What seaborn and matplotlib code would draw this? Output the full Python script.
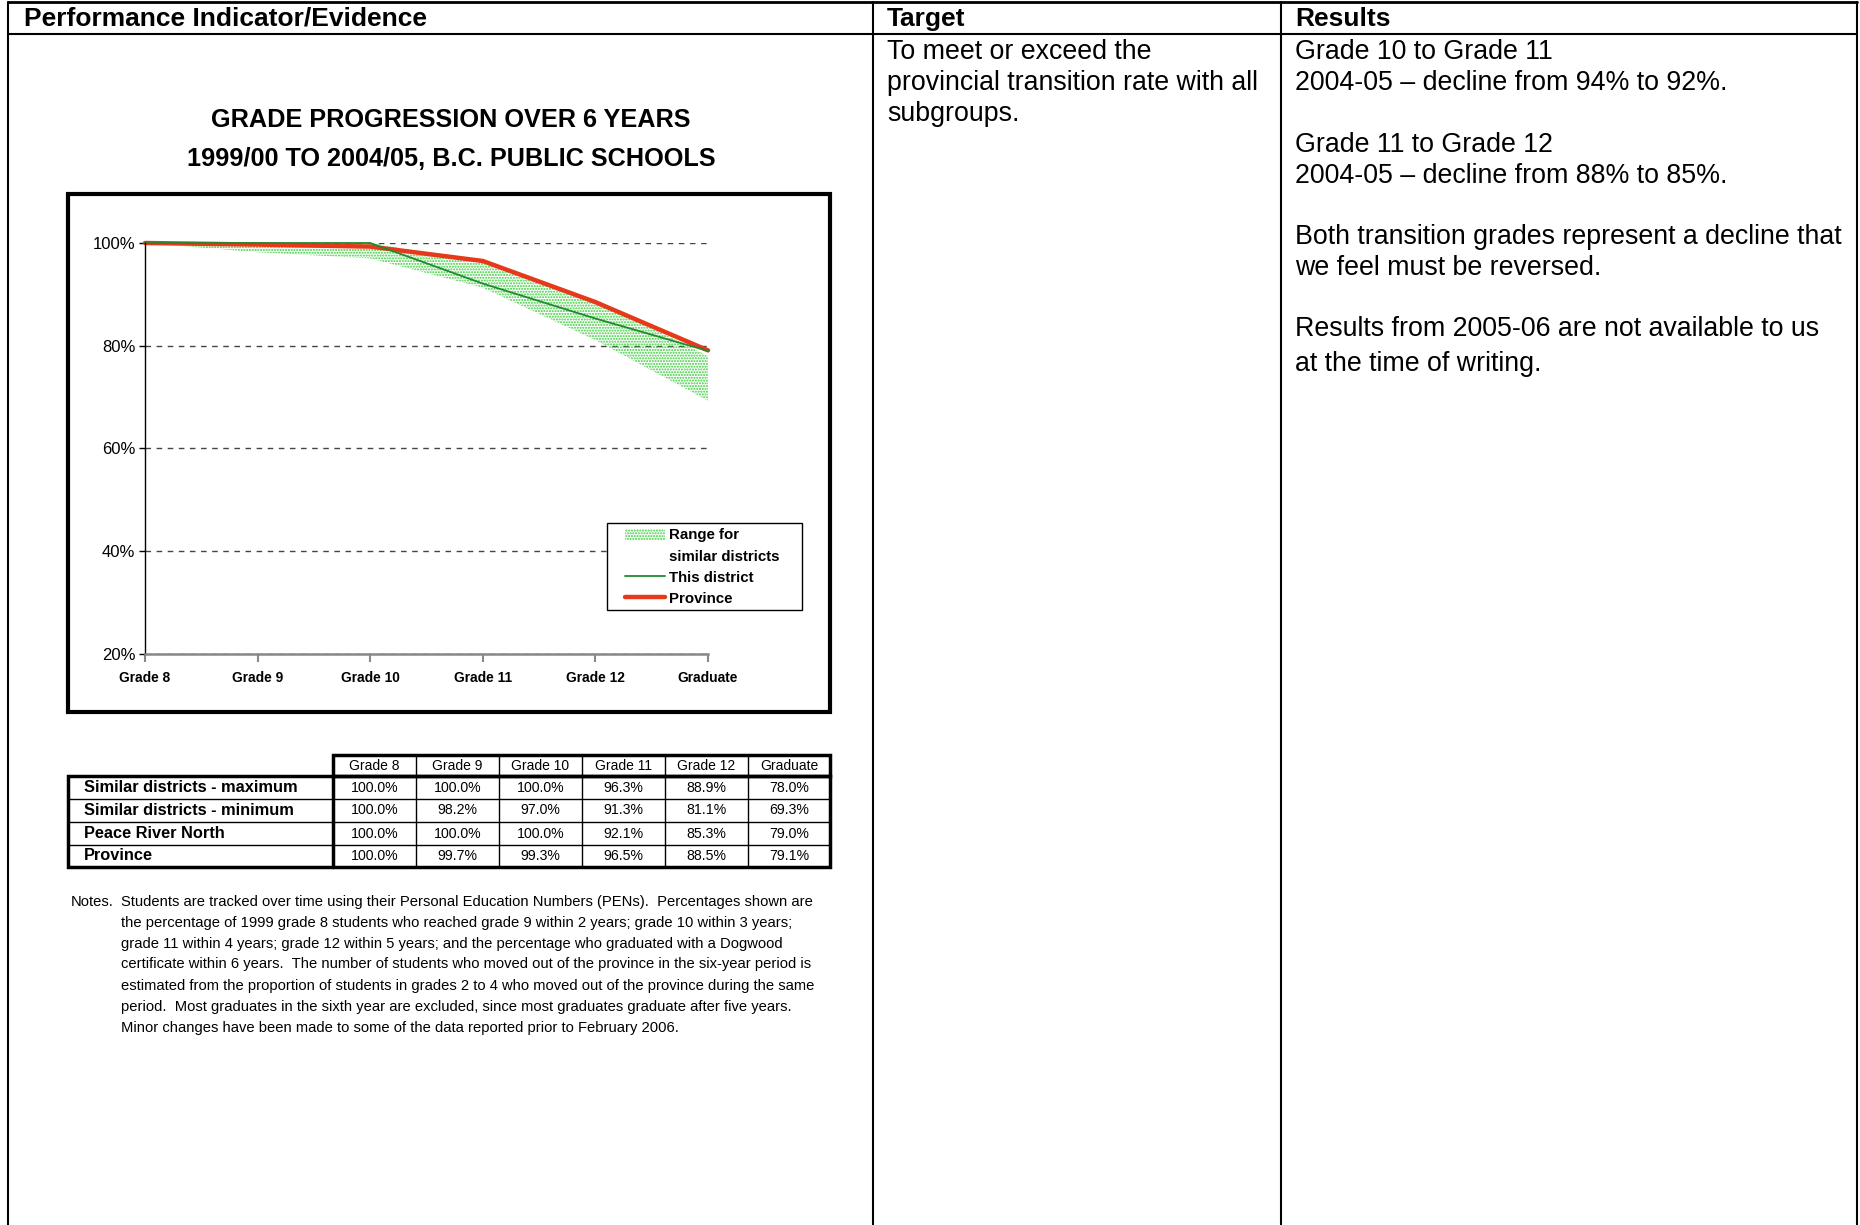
import matplotlib
matplotlib.use('Agg')
import matplotlib.pyplot as plt
import seaborn as sns
import numpy as np
from matplotlib.patches import Patch, Rectangle
from matplotlib.lines import Line2D

# chart / table data
grades = ['Grade 8', 'Grade 9', 'Grade 10', 'Grade 11', 'Grade 12', 'Graduate']
similar_max = [100.0, 100.0, 100.0, 96.3, 88.9, 78.0]
similar_min = [100.0, 98.2, 97.0, 91.3, 81.1, 69.3]
this_district = [100.0, 100.0, 100.0, 92.1, 85.3, 79.0]
province = [100.0, 99.7, 99.3, 96.5, 88.5, 79.1]
row_names = ['Similar districts - maximum', 'Similar districts - minimum', 'Peace River North', 'Province']
y_ticks = [20, 40, 60, 80, 100]

headers = ['Performance Indicator/Evidence', 'Target', 'Results']
title_lines = ['GRADE PROGRESSION OVER 6 YEARS', '1999/00 TO 2004/05, B.C. PUBLIC SCHOOLS']
legend_labels = ['Range for', 'similar districts', 'This district', 'Province']
target_lines = ['To meet or exceed the', 'provincial transition rate with all', 'subgroups.']
results_lines = ['Grade 10 to Grade 11', '2004-05 \u2013 decline from 94% to 92%.',
                 'Grade 11 to Grade 12', '2004-05 \u2013 decline from 88% to 85%.',
                 'Both transition grades represent a decline that', 'we feel must be reversed.',
                 'Results from 2005-06 are not available to us', 'at the time of writing.']
notes_lines = ['Students are tracked over time using their Personal Education Numbers (PENs).  Percentages shown are',
               'the percentage of 1999 grade 8 students who reached grade 9 within 2 years; grade 10 within 3 years;',
               'grade 11 within 4 years; grade 12 within 5 years; and the percentage who graduated with a Dogwood',
               'certificate within 6 years.  The number of students who moved out of the province in the six-year period is',
               'estimated from the proportion of students in grades 2 to 4 who moved out of the province during the same',
               'period.  Most graduates in the sixth year are excluded, since most graduates graduate after five years.',
               'Minor changes have been made to some of the data reported prior to February 2006.']

W, H = 1860, 1225
GREEN_FILL = '#38cc38'
GREEN = '#1f8a2e'
RED = '#e8381c'

sns.set_theme(style='white')
plt.rcParams['font.family'] = ['Liberation Sans', 'DejaVu Sans']
plt.rcParams['text.color'] = 'black'
plt.rcParams['xtick.color'] = 'black'
plt.rcParams['ytick.color'] = 'black'
plt.rcParams['hatch.linewidth'] = 1.0

fig = plt.figure(figsize=(W / 100, H / 100), dpi=100)
fig.patch.set_facecolor('white')

# page layer in pixel coordinates
page = fig.add_axes([0, 0, 1, 1])
page.set_xlim(0, W)
page.set_ylim(H, 0)
page.axis('off')
page.patch.set_alpha(0)

# page grid
page.plot([8, 1857], [2, 2], color='black', lw=2)
page.plot([8, 1857], [34, 34], color='black', lw=1.5)
for xv in [8, 873, 1281, 1857]:
    page.plot([xv, xv], [2, H], color='black', lw=1.5)

for txt, xv in zip(headers, [24, 887, 1295]):
    page.text(xv, 19, txt, fontsize=19, fontweight='bold', ha='left', va='center')

for txt, yv in zip(target_lines, [52, 83, 114]):
    page.text(887, yv, txt, fontsize=19.3, ha='left', va='center')
for txt, yv in zip(results_lines, [52, 83, 145, 176, 237, 268, 329, 364]):
    page.text(1295, yv, txt, fontsize=19.3, ha='left', va='center')

# chart titles and box
for txt, yv in zip(title_lines, [120, 159]):
    page.text(451, yv, txt, fontsize=18.2, fontweight='bold', ha='center', va='center')
page.add_patch(Rectangle((68, 194), 762, 518, fill=False, lw=3, edgecolor='black'))

# chart
ax = fig.add_axes([145 / W, 1 - 654 / H, (708 - 145) / W, (654 - 243) / H])
ax.patch.set_alpha(0)
xs = np.arange(len(grades))
ax.fill_between(xs, similar_min, similar_max, facecolor='none', edgecolor=GREEN_FILL,
                hatch='......', linewidth=0)
sns.lineplot(x=grades, y=province, ax=ax, color=RED, linewidth=3.2, sort=False)
sns.lineplot(x=grades, y=this_district, ax=ax, color=GREEN, linewidth=1.3, sort=False)
for ln in ax.lines:
    ln.set_clip_on(False)

ax.set_xlim(0, len(grades) - 1)
ax.set_ylim(20, 100)
ax.set_xticks(xs)
ax.set_xticklabels(grades, fontsize=9.9, fontweight='bold')
ax.set_yticks(y_ticks)
ax.set_yticklabels([f'{v}%' for v in y_ticks], fontsize=12)
ax.yaxis.grid(True, linestyle=(0, (4, 4)), color='#444444', lw=1)
ax.set_axisbelow(True)
for s in ['top', 'right']:
    ax.spines[s].set_visible(False)
ax.spines['left'].set_color('black')
ax.spines['left'].set_linewidth(1)
ax.spines['bottom'].set_color('#888888')
ax.spines['bottom'].set_linewidth(1.8)
ax.tick_params(axis='y', length=4, width=1, color='black', pad=3, left=True)
ax.tick_params(axis='x', length=6, width=1.5, color='#888888', pad=6, bottom=True)
ax.set_xlabel('')
ax.set_ylabel('')

# legend: box drawn separately so its size matches the original
ax.add_patch(Rectangle((607 / W, 1 - 610 / H), 195 / W, 87 / H, transform=fig.transFigure,
                       facecolor='white', edgecolor='black', lw=1, zorder=4, clip_on=False))
handles = [Patch(facecolor='none', edgecolor=GREEN_FILL, hatch='......', lw=0),
           Line2D([], [], alpha=0),
           Line2D([], [], color=GREEN, lw=1.3),
           Line2D([], [], color=RED, lw=3.2)]
leg = ax.legend(handles, legend_labels, loc='upper left', bbox_to_anchor=(620 / W, 1 - 524 / H),
                bbox_transform=fig.transFigure, frameon=False,
                prop={'weight': 'bold', 'size': 10.8}, handlelength=2.7,
                handletextpad=0.25, labelspacing=0.47, borderpad=0.3, borderaxespad=0)
leg.set_zorder(6)

# data table below chart
col_edges = [333, 416, 499, 582, 665, 748, 830]
row_edges = [755, 776, 799, 822, 845, 867]
page.add_patch(Rectangle((333, 755), 830 - 333, 21, fill=False, lw=2.5, edgecolor='black'))
page.add_patch(Rectangle((68, 776), 830 - 68, 867 - 776, fill=False, lw=2.5, edgecolor='black'))
page.plot([333, 333], [776, 867], color='black', lw=2.5)
for xv in col_edges[1:-1]:
    page.plot([xv, xv], [755, 867], color='black', lw=1)
for yv in row_edges[2:-1]:
    page.plot([68, 830], [yv, yv], color='black', lw=1)

for j, g in enumerate(grades):
    cx = (col_edges[j] + col_edges[j + 1]) / 2
    page.text(cx, (row_edges[0] + row_edges[1]) / 2, g, fontsize=10, ha='center', va='center')

table_rows = [similar_max, similar_min, this_district, province]
for i, (name, vals) in enumerate(zip(row_names, table_rows)):
    cy = (row_edges[i + 1] + row_edges[i + 2]) / 2
    page.text(84, cy, name, fontsize=11.8, fontweight='bold', ha='left', va='center')
    for j, v in enumerate(vals):
        cx = (col_edges[j] + col_edges[j + 1]) / 2
        page.text(cx, cy, f'{v:.1f}%', fontsize=10.2, ha='center', va='center')

# notes
page.text(71, 902, 'Notes.', fontsize=10.6, ha='left', va='center')
for txt, yv in zip(notes_lines, [902, 923, 944, 964, 986, 1007, 1028]):
    page.text(121, yv, txt, fontsize=10.6, ha='left', va='center')

fig.savefig('out.png', dpi=100, facecolor='white')
